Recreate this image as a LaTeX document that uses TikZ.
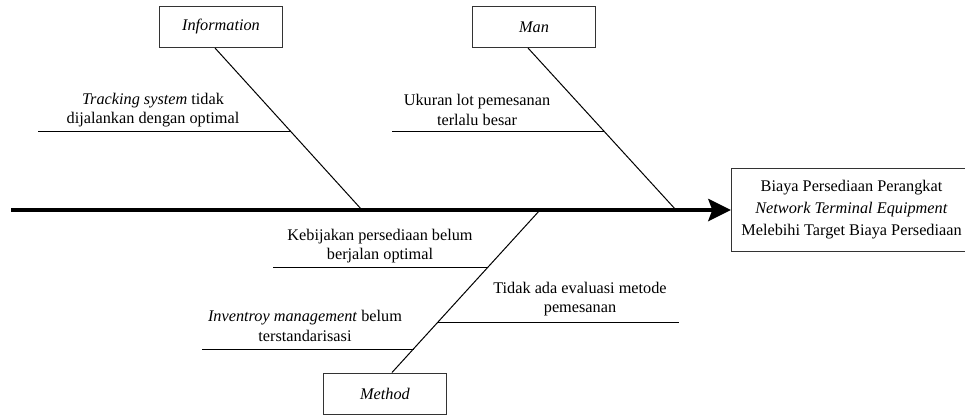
\documentclass[tikz,border=0pt]{standalone}
\usepackage{fontspec}
\setmainfont{Liberation Serif}
\usetikzlibrary{arrows.meta, positioning}
\tikzset{
    category/.style={
        rectangle, draw=black!80, line width=0.75pt,
        minimum width=92.25pt, minimum height=30.75pt,
        fill=white, font=\fontsize{12.2}{14.5}\selectfont\itshape
    },
    effect/.style={
        rectangle, draw=black!80, line width=0.75pt,
        minimum width=180pt, minimum height=62.25pt,
        fill=white, align=center, inner sep=0pt,
        font=\fontsize{12.2}{16.5}\selectfont
    },
    cause/.style={align=center, inner sep=0pt, font=\fontsize{12.2}{14.5}\selectfont},
    bone/.style={draw=black, line width=0.75pt},
    spine/.style={draw=black, line width=3pt, -{Stealth[length=17pt, width=16.5pt, inset=3pt]}}
}

\begin{document}
\begin{tikzpicture}[x=0.75pt, y=-0.75pt]
\useasboundingbox (0,0) rectangle (965,415);

% effect and spine
\node[effect, anchor=west] (eff) at (731,210) {Biaya Persediaan Perangkat\\ \textit{Network Terminal Equipment}\\ Melebihi Target Biaya Persediaan};
\coordinate (tail) at (11,210);
\draw[spine] (tail) -- (eff.west);

% Information
\node[category] (info) at (221,27) {Information};
\coordinate (infoEnd) at (362,210);
\draw[bone] ([xshift=-4.5pt]info.south) -- (infoEnd);

\coordinate (trkL) at (38,131);
\coordinate (trkR) at (291,131);
\draw[bone] (trkL) -- (trkR);
\node[cause] (trk) at (153,110) {\textit{Tracking system} tidak\\ dijalankan dengan optimal};

% Man
\node[category] (man) at (534,27) {Man};
\coordinate (manEnd) at (676,210);
\draw[bone] ([xshift=-4.5pt]man.south) -- (manEnd);

\coordinate (lotL) at (392,131);
\coordinate (lotR) at (604,131);
\draw[bone] (lotL) -- (lotR);
\node[cause] (lot) at (477,110) {Ukuran lot pemesanan\\ terlalu besar};

% Method
\node[category] (meth) at (385,393.5) {Method};
\coordinate (methEnd) at (540,210);
\draw[bone] (methEnd) -- ([xshift=5.25pt]meth.north);

\coordinate (kbjL) at (273,267);
\coordinate (kbjR) at (488,267);
\draw[bone] (kbjL) -- (kbjR);
\node[cause] (kbj) at (380,246) {Kebijakan persediaan belum\\ berjalan optimal};

\coordinate (evlL) at (438,322);
\coordinate (evlR) at (679,322);
\draw[bone] (evlL) -- (evlR);
\node[cause] (evl) at (580,299) {Tidak ada evaluasi metode\\ pemesanan};

\coordinate (invL) at (202,349);
\coordinate (invR) at (414,349);
\draw[bone] (invL) -- (invR);
\node[cause] (inv) at (305,326) {\textit{Inventroy management} belum\\ terstandarisasi};

\end{tikzpicture}
\end{document}
